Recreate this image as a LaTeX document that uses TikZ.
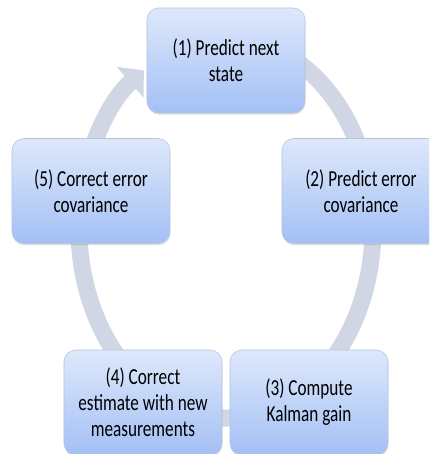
\documentclass[tikz,border=0pt]{standalone}
\usepackage{fontspec}
\setmainfont{Carlito}[FakeStretch=0.75]
\usepackage{tikz}
\usetikzlibrary{shadows}
\usetikzlibrary{arrows.meta}
\definecolor{boxtop}{RGB}{222,232,251}
\definecolor{boxbot}{RGB}{163,192,245}
\definecolor{boxline}{RGB}{182,196,222}
\definecolor{ringgray}{RGB}{208,214,227}
\tikzset{
  stage node/.style={rectangle,rounded corners=0.3cm,draw=boxline,line width=0.4pt,
    top color=boxtop,bottom color=boxbot,minimum width=3.95cm,minimum height=2.625cm,
    align=center,font=\fontsize{16.3}{18.4}\selectfont,
    drop shadow={shadow xshift=0.3pt,shadow yshift=-1.2pt,opacity=0.25}},
  ring/.style={draw=ringgray,line width=0.425cm,-{Triangle[width=1cm,length=0.45cm]}}
}
\begin{document}
\begin{tikzpicture}[x=0.025cm,y=0.025cm]
        \clip (0,0) rectangle (429,454);
        \coordinate (mid) at (226,226);
        % the cycle behind the stages
        \draw[ring] (mid) ++(80:147 and 190)
          arc[start angle=80,end angle=-236,x radius=147,y radius=190];
        \node [stage node] (s1) at (226,393.5) {(1) Predict next\\state};
        \node [stage node] (s2) at (361,263) {(2) Predict error\\covariance};
        \node [stage node] (s3) at (309,51.5) {(3) Compute\\Kalman gain};
        \node [stage node] (s4) at (143,51.5) {(4) Correct\\estimate with new\\measurements};
        \node [stage node] (s5) at (91,263) {(5) Correct error\\covariance};
      \end{tikzpicture}
\end{document}
